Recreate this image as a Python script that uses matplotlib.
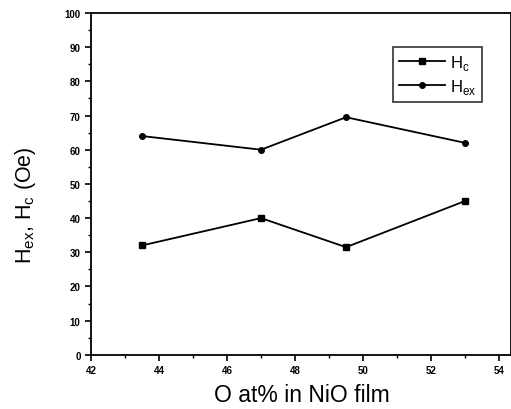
import matplotlib
matplotlib.use("Agg")
import matplotlib.pyplot as plt
from matplotlib.ticker import MultipleLocator

plt.rcParams['font.family'] = ['Liberation Sans', 'DejaVu Sans']
plt.rcParams['mathtext.fontset'] = 'custom'
plt.rcParams['mathtext.rm'] = 'Liberation Sans'

o_at = [43.5, 47.0, 49.5, 53.0]
hc = [32, 40, 31.5, 45]
hex_ = [64, 60, 69.5, 62]

fig = plt.figure(figsize=(5.11, 4.10), dpi=100)
ax = fig.add_axes([0.178, 0.132, 0.822, 0.834])

ax.plot(o_at, hc, color='black', marker='s', markersize=4, lw=1.3, label=r'H$_{\rm c}$')
ax.plot(o_at, hex_, color='black', marker='o', markersize=4, lw=1.3, label=r'H$_{\rm ex}$')

ax.set_xlim(42, 54.35)
ax.set_ylim(0, 100)
ax.xaxis.set_major_locator(MultipleLocator(2))
ax.xaxis.set_minor_locator(MultipleLocator(1))
ax.yaxis.set_major_locator(MultipleLocator(10))
ax.yaxis.set_minor_locator(MultipleLocator(5))
ax.tick_params(which='major', direction='out', length=4, width=1.2, labelsize=7)
ax.tick_params(which='minor', direction='out', length=2, width=1)
for lab in ax.get_xticklabels() + ax.get_yticklabels():
    lab.set_fontweight('bold')
for s in ax.spines.values():
    s.set_linewidth(1.3)

ax.set_xlabel('O at% in NiO film', fontsize=16.5)
ax.set_ylabel(r'H$_{\rm ex}$, H$_{\rm c}$ (Oe)', fontsize=15.5)
ax.xaxis.set_label_coords(0.503, -0.082)
ax.yaxis.set_label_coords(-0.126, 0.44)

leg = ax.legend(loc='upper right', bbox_to_anchor=(0.931, 0.9), fontsize=12,
                frameon=True, fancybox=False, edgecolor='black', handlelength=2.75,
                borderpad=0.35, labelspacing=0.3, handletextpad=0.3,
                borderaxespad=0)
leg.get_frame().set_linewidth(1.2)

fig.savefig('out.png', dpi=100)
